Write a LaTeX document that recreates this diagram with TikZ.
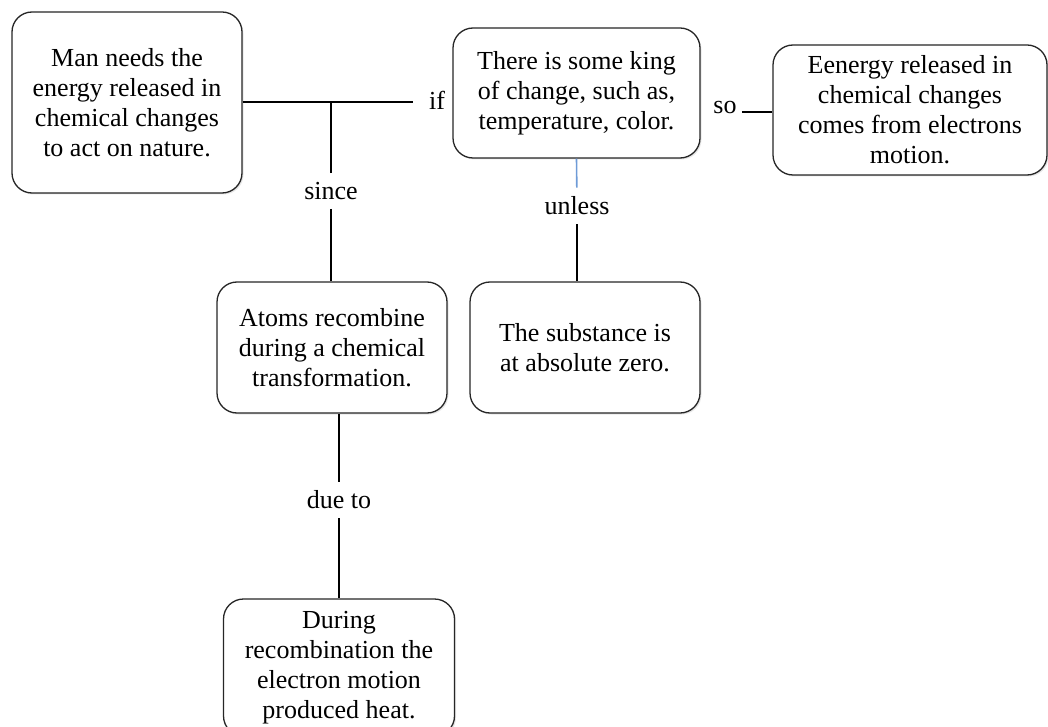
\documentclass[tikz,border=0pt]{standalone}
\usepackage{fontspec}
\setmainfont{Liberation Serif}
\usetikzlibrary{shadows}
\definecolor{linkblue}{RGB}{110,155,215}
\tikzset{
    concept/.style={draw=black!85, line width=1.3pt, rounded corners=20pt, fill=white, align=center,
        font=\fontsize{26}{30}\selectfont,
        drop shadow={opacity=0.2, shadow xshift=1.5pt, shadow yshift=-1.5pt}},
    linkword/.style={font=\fontsize{26}{30}\selectfont, inner sep=9pt},
    link/.style={black, line width=2.6pt},
}
\begin{document}
\begin{tikzpicture}[x=1pt, y=-1pt]
    \useasboundingbox (0,0) rectangle (1048,727);
    \clip (0,0) rectangle (1048,727);
    % concepts
    \node[concept, minimum width=230pt, minimum height=181pt] (need) at (127,102.5) {Man needs the\\energy released in\\chemical changes\\to act on nature.};
    \node[concept, minimum width=247pt, minimum height=130pt] (change) at (576.5,93) {There is some king\\of change, such as,\\temperature, color.};
    \node[concept, minimum width=274pt, minimum height=130pt] (source) at (910,110) {Eenergy released in\\chemical changes\\comes from electrons\\motion.};
    \node[concept, minimum width=230pt, minimum height=131pt] (atoms) at (332,347.5) {Atoms recombine\\during a chemical\\transformation.};
    \node[concept, minimum width=230pt, minimum height=131pt] (zero) at (585,347.5) {The substance is\\at absolute zero.};
    \node[concept, minimum width=231pt, minimum height=137pt] (heat) at (339,667.5) {During\\recombination the\\electron motion\\produced heat.};
    % linking words
    \node[linkword, inner sep=5pt] (if) at (437,100) {if};
    \node[linkword] (since) at (331,191) {since};
    \node[linkword, inner sep=5pt] (so) at (725,108) {so};
    \node[linkword] (unless) at (577,206) {unless};
    \node[linkword] (dueto) at (339,500) {due to};
    % links
    \draw[link] (need.east |- 0,102) to (413,102);
    \draw[link] (since) to (331,102);
    \draw[link] (since) to (since |- atoms.north);
    \draw[link] (so.east |- 0,112) to (source.west |- 0,112);
    \draw[linkblue, line width=1.6pt] (change.south) to (unless);
    \draw[link] (unless) to (unless |- zero.north);
    \draw[link] (dueto) to (dueto |- atoms.south);
    \draw[link] (dueto) to (heat.north);
\end{tikzpicture}
\end{document}
